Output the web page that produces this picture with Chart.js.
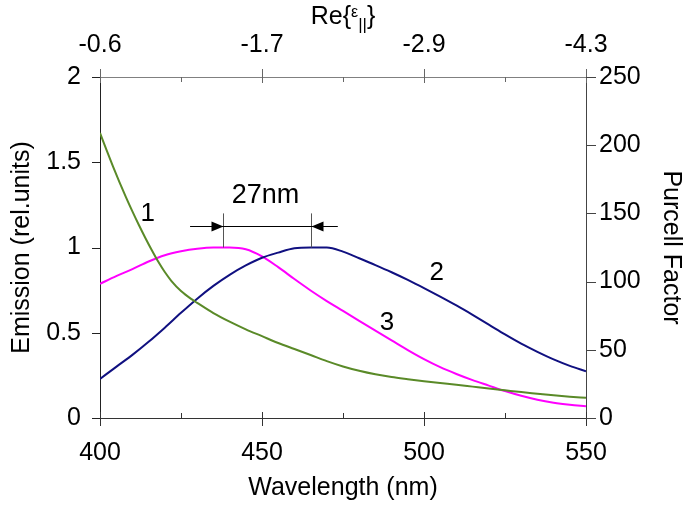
<!DOCTYPE html>
<html><head><meta charset="utf-8">
<script src="https://cdn.jsdelivr.net/npm/chart.js@4/dist/chart.umd.min.js"></script>
<style>html,body{margin:0;padding:0;background:#fff;}#wrap{width:697px;height:506px;}</style>
</head><body><div id="wrap"><canvas id="c" width="697" height="506"></canvas></div>
<script>
// ---- data ----
const wavelength = [400,405,410,415,420,425,430,435,440,445,450,455,460,465,470,475,480,485,490,495,500,505,510,515,520,525,530,535,540,545,550];
const emission2 = [0.229,0.30,0.37,0.447,0.53,0.617,0.70,0.775,0.84,0.895,0.94,0.97,0.995,1.0,1.0,0.976,0.937,0.897,0.855,0.81,0.762,0.712,0.66,0.605,0.548,0.49,0.436,0.388,0.344,0.306,0.274];
const emission3 = [0.787,0.832,0.873,0.918,0.955,0.978,0.993,1.0,1.0,0.99,0.948,0.885,0.815,0.748,0.686,0.628,0.570,0.512,0.455,0.398,0.345,0.298,0.258,0.222,0.19,0.158,0.13,0.107,0.09,0.078,0.069];
const purcellWavelength = [400,402,404,406,408,410,412,414,416,418,420,422,425,428,430,435,440,445,450,455,460,465,470,475,480,485,490,495,500,505,510,515,520,525,530,535,540,545,550];
const purcellFactor = [209,196.5,184.5,173,162,151.5,141.5,132,123,114.5,107,100.6,93.1,87.5,84.4,76.9,70.6,65,60,55,50.6,46.2,41.7,37.8,34.6,32,30,28.4,26.9,25.6,24.4,23,21.6,20.3,19,17.8,16.6,15.6,14.8];
const wavelengthTicks = [400,450,500,550];
const epsilonTickLabels = ['-0.6','-1.7','-2.9','-4.3'];
const curveLabels = [{text:'1',x:414.7,y:1.197},{text:'2',x:503.9,y:0.854},{text:'3',x:488.6,y:0.557}];
const peakShift = {text:'27nm', peak3:438, peak2:465, level:1.0, top:1.2, arrowLevel:1.126, leftStart:427.8, rightStart:473.4, textX:451.1, textY:1.302};

const FONT = "'Liberation Sans', Arial, sans-serif";
const FS = 25;

const fixSize = (w,h) => function(s){ if(w!=null) s.width=w; if(h!=null) s.height=h; };

const decor = {
  id:'decor',
  afterDraw(chart){
    const ctx = chart.ctx;
    const x = chart.scales.x, y = chart.scales.y, y2 = chart.scales.y2;
    const a = chart.chartArea;
    ctx.save();
    ctx.lineWidth = 1;
    for(let v=400; v<=550; v+=25){
      const px = Math.round(x.getPixelForValue(v))+0.5;
      const major = v%50===0;
      ctx.strokeStyle = '#333';
      ctx.beginPath();
      if(major){ ctx.moveTo(px,a.bottom-6); ctx.lineTo(px,a.bottom+8); }
      else { ctx.moveTo(px,a.bottom-5); ctx.lineTo(px,a.bottom); }
      ctx.stroke();
      ctx.strokeStyle = '#666';
      ctx.beginPath();
      if(major){ ctx.moveTo(px,a.top-8); ctx.lineTo(px,a.top+6); }
      else { ctx.moveTo(px,a.top); ctx.lineTo(px,a.top+5); }
      ctx.stroke();
    }
    ctx.strokeStyle = '#222';
    for(let v=0; v<=2.0001; v+=0.5){
      const py = Math.round(y.getPixelForValue(v))+0.5;
      ctx.beginPath(); ctx.moveTo(a.left-8,py); ctx.lineTo(a.left,py); ctx.stroke();
    }
    ctx.strokeStyle = '#444';
    for(let v=0; v<=250; v+=50){
      const py = Math.round(y2.getPixelForValue(v))+0.5;
      ctx.beginPath(); ctx.moveTo(a.right,py); ctx.lineTo(a.right+10,py); ctx.stroke();
    }
    ctx.fillStyle = '#000';
    ctx.textAlign = 'center'; ctx.textBaseline = 'middle';
    ctx.font = '26px ' + FONT;
    curveLabels.forEach(l => ctx.fillText(l.text, x.getPixelForValue(l.x), y.getPixelForValue(l.y)));
    const p3 = Math.round(x.getPixelForValue(peakShift.peak3))+0.5;
    const p2 = Math.round(x.getPixelForValue(peakShift.peak2))+0.5;
    const yTop = y.getPixelForValue(peakShift.top), yLev = y.getPixelForValue(peakShift.level);
    const ay = Math.round(y.getPixelForValue(peakShift.arrowLevel))+0.5;
    const l0 = x.getPixelForValue(peakShift.leftStart), r0 = x.getPixelForValue(peakShift.rightStart);
    ctx.strokeStyle = '#555';
    ctx.beginPath(); ctx.moveTo(p3,yTop); ctx.lineTo(p3,yLev); ctx.moveTo(p2,yTop); ctx.lineTo(p2,yLev); ctx.stroke();
    ctx.strokeStyle = '#000';
    ctx.beginPath(); ctx.moveTo(l0,ay); ctx.lineTo(r0,ay); ctx.stroke();
    ctx.fillStyle = '#000';
    ctx.beginPath(); ctx.moveTo(p3,ay); ctx.lineTo(p3-12,ay-5); ctx.lineTo(p3-12,ay+5); ctx.closePath(); ctx.fill();
    ctx.beginPath(); ctx.moveTo(p2,ay); ctx.lineTo(p2+12,ay-5); ctx.lineTo(p2+12,ay+5); ctx.closePath(); ctx.fill();
    ctx.font = '27px ' + FONT;
    ctx.fillText(peakShift.text, x.getPixelForValue(peakShift.textX), y.getPixelForValue(peakShift.textY));
    // top title Re{eps_||}
    const parts = [
      {t:'Re{', f:'25px', dy:0},
      {t:'\u03B5', f:'16px', dy:-7},
      {t:'||', f:'17px', dy:6},
      {t:'}', f:'25px', dy:0}
    ];
    ctx.textAlign = 'left'; ctx.textBaseline = 'alphabetic';
    let total = 0;
    parts.forEach(p => { ctx.font = p.f + ' ' + FONT; p.w = ctx.measureText(p.t).width; total += p.w; });
    let cx = (a.left + a.right)/2 - total/2;
    const base = 24;
    parts.forEach(p => { ctx.font = p.f + ' ' + FONT; ctx.fillText(p.t, cx, base + p.dy); cx += p.w; });
    ctx.restore();
  }
};

const lineStyle = {borderWidth:2, pointRadius:0, cubicInterpolationMode:'monotone', fill:false};

new Chart(document.getElementById('c'), {
  type:'line',
  data:{
    datasets:[
      Object.assign({label:'1', data: purcellWavelength.map((w,i)=>({x:w,y:purcellFactor[i]})), yAxisID:'y2', xAxisID:'x', borderColor:'#5a8a28'}, lineStyle),
      Object.assign({label:'2', data: wavelength.map((w,i)=>({x:w,y:emission2[i]})), yAxisID:'y', xAxisID:'x', borderColor:'#101080'}, lineStyle),
      Object.assign({label:'3', data: wavelength.map((w,i)=>({x:w,y:emission3[i]})), yAxisID:'y', xAxisID:'x', borderColor:'#ff00ff'}, lineStyle)
    ]
  },
  options:{
    responsive:false, animation:false, devicePixelRatio:1,
    layout:{padding:0},
    plugins:{legend:{display:false}, tooltip:{enabled:false}},
    scales:{
      x:{type:'linear', position:'bottom', min:400, max:550,
        afterBuildTicks:s=>{ s.ticks = wavelengthTicks.map(v=>({value:v})); },
        ticks:{font:{family:FONT,size:FS}, color:'#000', padding:20, maxRotation:0},
        grid:{display:false, drawTicks:false}, border:{display:true, color:'#333', width:1},
        title:{display:true, text:'Wavelength (nm)', font:{family:FONT,size:FS}, color:'#000', padding:{top:0,bottom:3}},
        afterFit: fixSize(null,88)},
      x2:{type:'linear', position:'top', min:400, max:550,
        afterBuildTicks:s=>{ s.ticks = wavelengthTicks.map(v=>({value:v})); },
        ticks:{font:{family:FONT,size:FS}, color:'#000', padding:17, maxRotation:0,
          callback:(v)=>{ const i = wavelengthTicks.indexOf(v); return i>=0 ? epsilonTickLabels[i] : ''; }},
        grid:{display:false, drawTicks:false}, border:{display:true, color:'#808080', width:1},
        afterFit: fixSize(null,77)},
      y:{type:'linear', position:'left', min:0, max:2,
        ticks:{stepSize:0.5, font:{family:FONT,size:FS}, color:'#000', padding:19, callback:(v)=>String(v)},
        grid:{display:false, drawTicks:false}, border:{display:true, color:'#222', width:1},
        title:{display:true, text:'Emission (rel.units)', font:{family:FONT,size:FS}, color:'#000', padding:{top:7,bottom:0}},
        afterFit: fixSize(100,null)},
      y2:{type:'linear', position:'right', min:0, max:250,
        ticks:{stepSize:50, font:{family:FONT,size:FS}, color:'#000', padding:13},
        grid:{display:false, drawTicks:false}, border:{display:true, color:'#444', width:1},
        title:{display:true, text:'Purcell Factor', font:{family:FONT,size:FS}, color:'#000', padding:{top:11,bottom:0}},
        afterFit: fixSize(111,null)}
    }
  },
  plugins:[decor]
});
</script></body></html>
